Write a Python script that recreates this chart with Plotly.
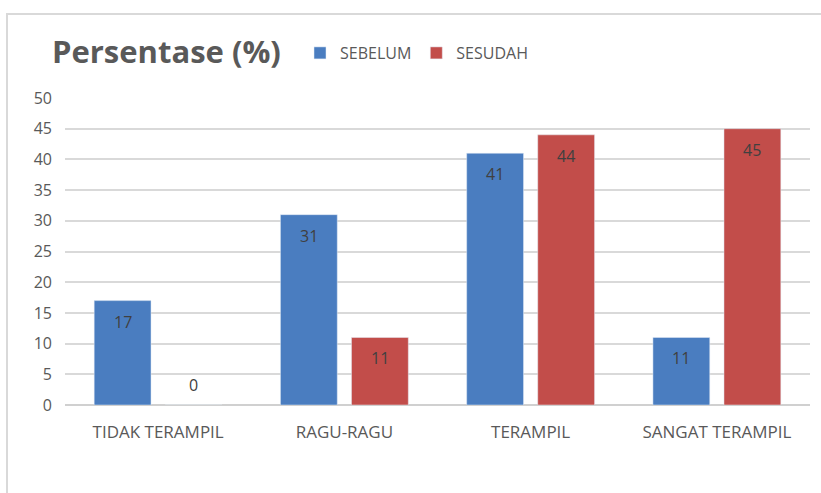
import plotly.graph_objects as go

# Data
categories = ["TIDAK TERAMPIL", "RAGU-RAGU", "TERAMPIL", "SANGAT TERAMPIL"]
sebelum = [17, 31, 41, 11]
sesudah = [0, 11, 44, 45]
y_ticks = [0, 5, 10, 15, 20, 25, 30, 35, 40, 45, 50]

BLUE = "#4a7dc0"
RED = "#c24d4a"
TXT = "#595959"
FONT = "Open Sans"

W, H = 821, 493
L, R, T, B = 65, 11, 98, 88

fig = go.Figure()
fig.add_trace(go.Bar(name="SEBELUM", x=categories, y=sebelum, marker_color=BLUE))
fig.add_trace(go.Bar(name="SESUDAH", x=categories, y=sesudah, marker_color=RED))

pw = W - L - R
ph = H - T - B

def px_x(p):
    return (p - L) / pw

def px_y(p):
    return (H - B - p) / ph

# value labels: just under the top of each bar, above the axis for zero
BARGAP, GROUPGAP = 0.237, 0.2
slot = pw / len(categories) * (1 - BARGAP) / 2
for series, shift in ((sebelum, -slot / 2), (sesudah, slot / 2)):
    for cat, v in zip(categories, series):
        fig.add_annotation(x=cat, y=v, xref="x", yref="y", text=str(v),
                           showarrow=False, xshift=shift,
                           yshift=20 if v == 0 else -21,
                           font=dict(family=FONT, size=16, color="#404040"))

# chart frame
fig.add_shape(type="rect", xref="paper", yref="paper",
              x0=px_x(7), x1=px_x(W + 20), y0=px_y(H + 20), y1=px_y(14),
              line=dict(color="#d9d9d9", width=2), fillcolor="rgba(0,0,0,0)",
              layer="below")

fig.update_layout(
    width=W, height=H,
    margin=dict(l=L, r=R, t=T, b=B),
    paper_bgcolor="white", plot_bgcolor="white",
    barmode="group", bargap=BARGAP, bargroupgap=GROUPGAP,
    title=dict(text="<b>Persentase (%)</b>", xref="container", yref="container",
               x=52 / W, xanchor="left", y=1 - 52 / H, yanchor="middle",
               font=dict(family=FONT, size=31, color=TXT)),
    legend=dict(orientation="h", xref="paper", yref="paper",
                x=px_x(300), xanchor="left", y=px_y(53), yanchor="middle",
                font=dict(family=FONT, size=16, color=TXT),
                itemwidth=30, traceorder="normal", bgcolor="rgba(0,0,0,0)"),
    font=dict(family=FONT, color=TXT),
    showlegend=True,
)
fig.update_yaxes(range=[0, 50], tickvals=y_ticks, showgrid=True,
                 gridcolor="#d9d9d9", gridwidth=1.5, zeroline=True,
                 zerolinecolor="#d0d0d0", zerolinewidth=2,
                 tickfont=dict(family=FONT, size=16, color=TXT),
                 ticks="", ticklabelstandoff=12)
fig.update_xaxes(showline=False, ticks="",
                 tickfont=dict(family=FONT, size=17, color=TXT),
                 ticklabelstandoff=15)

fig.write_html("out.html")
